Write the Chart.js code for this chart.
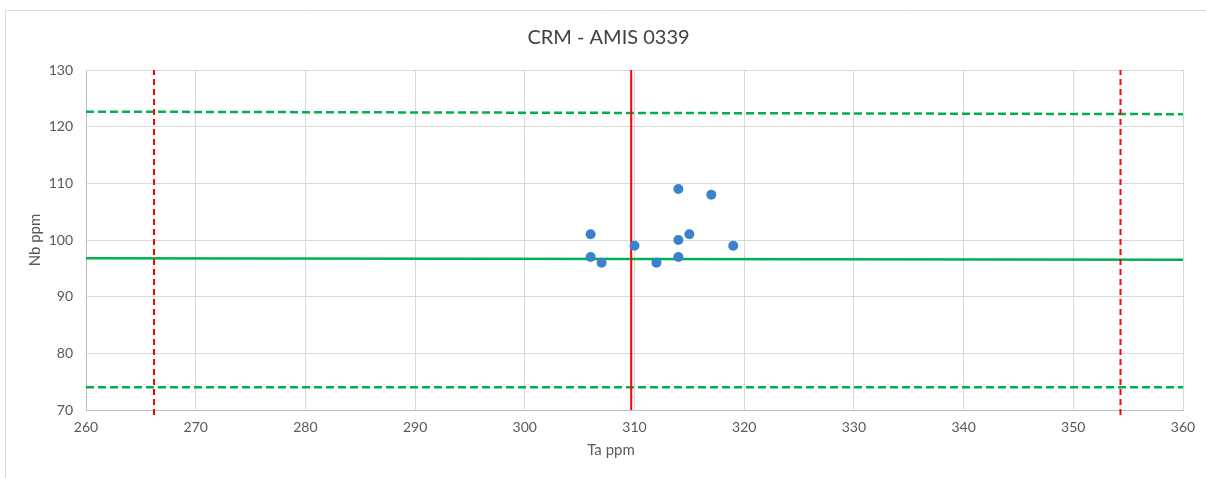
<!DOCTYPE html>
<html>
<head>
<meta charset="utf-8">
<script src="https://cdn.jsdelivr.net/npm/chart.js@4"></script>
<style>
  html, body { margin: 0; padding: 0; background: #ffffff; }
  #wrap { width: 1206px; height: 478px; position: relative; }
</style>
</head>
<body>
<div id="wrap"><canvas id="c" width="1206" height="478"></canvas></div>
<script>
// ---- data ----
const chartTitle = "CRM - AMIS 0339";
const xAxisTitle = "Ta ppm";
const yAxisTitle = "Nb ppm";

const taValues = [306, 306, 307, 310, 312, 314, 314, 314, 315, 317, 319];
const nbValues = [101, 97, 96, 99, 96, 109, 100, 97, 101, 108, 99];

// reference lines (x pairs, y pairs)
const nbUpperX = [260, 360];
const nbUpperY = [122.65, 122.2];
const nbMeanX = [260, 360];
const nbMeanY = [96.78, 96.5];
const nbLowerX = [260, 360];
const nbLowerY = [74.0, 74.0];

const taLowerX = [266.2, 266.2];
const taLowerY = [69.1, 130];
const taMeanX = [309.7, 309.7];
const taMeanY = [70, 130];
const taUpperX = [354.3, 354.3];
const taUpperY = [69.1, 130];

const xMin = 260, xMax = 360, xStep = 10;
const yMin = 70, yMax = 130, yStep = 10;

function pts(xs, ys) { return xs.map((x, i) => ({ x: x, y: ys[i] })); }

const FONT = "Lato, 'Open Sans', 'Liberation Sans', sans-serif";
const TXT = '#595959';

const lineDs = (label, xs, ys, color, width, dash, clip) => ({
  type: 'line',
  label: label,
  data: pts(xs, ys),
  borderColor: color,
  backgroundColor: color,
  borderWidth: width,
  borderDash: dash,
  pointRadius: 0,
  pointHoverRadius: 0,
  showLine: true,
  fill: false,
  tension: 0,
  clip: clip
});

const chromePlugin = {
  id: 'chrome',
  beforeDraw(chart) {
    const ctx = chart.ctx;
    ctx.save();
    ctx.fillStyle = '#ffffff';
    ctx.fillRect(0, 0, chart.width, chart.height);
    ctx.strokeStyle = '#d9d9d9';
    ctx.lineWidth = 1;
    ctx.beginPath();
    ctx.moveTo(5.5, chart.height);
    ctx.lineTo(5.5, 10.5);
    ctx.lineTo(chart.width, 10.5);
    ctx.stroke();
    ctx.restore();
  },
  afterDraw(chart) {
    const ctx = chart.ctx;
    ctx.save();
    ctx.fillStyle = '#404040';
    ctx.font = "20px " + FONT;
    ctx.textAlign = 'center';
    ctx.textBaseline = 'middle';
    ctx.fillText(chartTitle, 608.5, 38);

    ctx.fillStyle = TXT;
    ctx.font = "15px " + FONT;
    ctx.fillText(xAxisTitle, 611, 450);

    ctx.translate(35, 240);
    ctx.rotate(-Math.PI / 2);
    ctx.fillText(yAxisTitle, 0, 0);
    ctx.restore();
  }
};

new Chart(document.getElementById('c'), {
  type: 'scatter',
  data: {
    datasets: [
      {
        type: 'scatter',
        label: 'Samples',
        data: pts(taValues, nbValues),
        backgroundColor: '#3b82cc',
        borderColor: '#3b82cc',
        pointRadius: 5,
        pointHoverRadius: 5,
        borderWidth: 0
      },
      lineDs('Ta mean', taMeanX, taMeanY, '#ff0000', 2, [], true),
      lineDs('Ta -', taLowerX, taLowerY, '#ff0000', 2, [6, 4], false),
      lineDs('Ta +', taUpperX, taUpperY, '#ff0000', 2, [6, 4], false),
      lineDs('Nb mean', nbMeanX, nbMeanY, '#00b050', 2.5, [], true),
      lineDs('Nb +', nbUpperX, nbUpperY, '#00b050', 2.5, [8, 4], true),
      lineDs('Nb -', nbLowerX, nbLowerY, '#00b050', 2.5, [8, 4], true)
    ]
  },
  options: {
    responsive: false,
    animation: false,
    devicePixelRatio: 1,
    layout: { padding: { left: 0, top: 70, right: 23, bottom: 0 } },
    plugins: {
      legend: { display: false },
      title: { display: false },
      tooltip: { enabled: false }
    },
    scales: {
      x: {
        type: 'linear',
        min: xMin, max: xMax,
        ticks: { stepSize: xStep, color: TXT, font: { family: FONT, size: 14 }, padding: 9, maxRotation: 0 },
        grid: { color: '#d9d9d9', drawTicks: false, tickLength: 0 },
        border: { color: '#bfbfbf' },
        afterFit(s) { s.height = 68; }
      },
      y: {
        type: 'linear',
        min: yMin, max: yMax,
        ticks: { stepSize: yStep, color: TXT, font: { family: FONT, size: 14 }, padding: 13 },
        grid: { color: '#d9d9d9', drawTicks: false, tickLength: 0 },
        border: { color: '#bfbfbf' },
        afterFit(s) { s.width = 86; }
      }
    }
  },
  plugins: [chromePlugin]
});
</script>
</body>
</html>
